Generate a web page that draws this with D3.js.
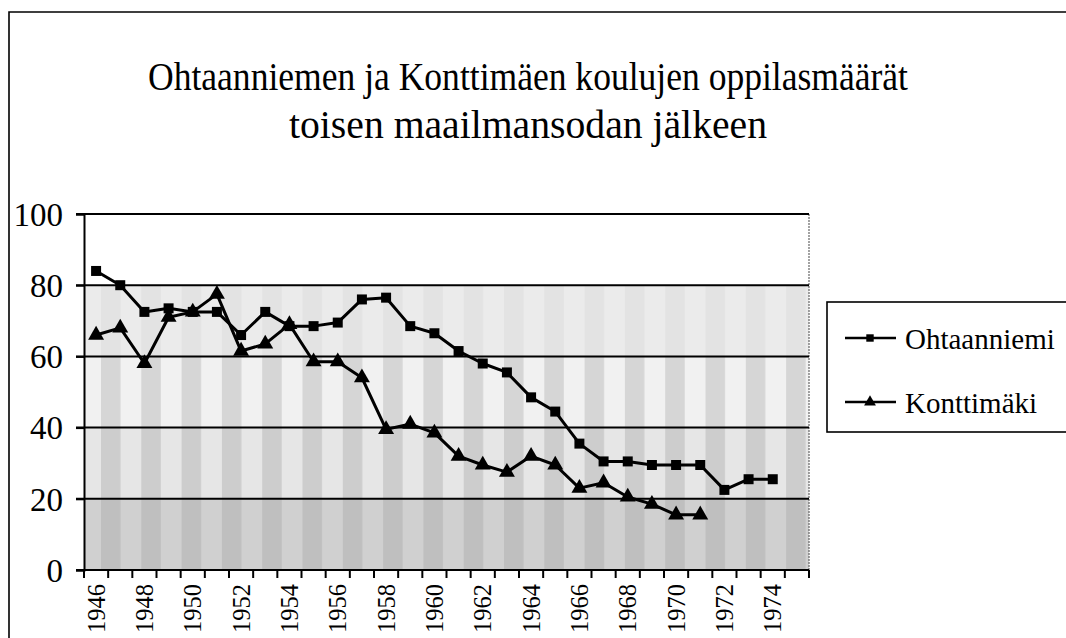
<!DOCTYPE html>
<html>
<head>
<meta charset="utf-8">
<script src="https://cdn.jsdelivr.net/npm/d3@7"></script>
<style>
  body { margin: 0; background: #fff; }
  svg { display: block; }
  text { font-family: "Liberation Serif", Tinos, "Times New Roman", "DejaVu Serif", serif; }
</style>
</head>
<body>
<script>
// School enrolment, 1946–1975
const years = [1946, 1947, 1948, 1949, 1950, 1951, 1952, 1953, 1954, 1955,
               1956, 1957, 1958, 1959, 1960, 1961, 1962, 1963, 1964, 1965,
               1966, 1967, 1968, 1969, 1970, 1971, 1972, 1973, 1974, 1975];
const ohtaanniemi = [84, 80, 72.5, 73.5, 72.5, 72.5, 66, 72.5, 68.5, 68.5,
                     69.5, 76, 76.5, 68.5, 66.5, 61.5, 58, 55.5, 48.5, 44.5,
                     35.5, 30.5, 30.5, 29.5, 29.5, 29.5, 22.5, 25.5, 25.5, null];
const konttimaki = [66, 68, 58, 71, 72.5, 77.5, 61.5, 63.5, 69, 58.5,
                    58.5, 54, 39.5, 41, 38.5, 32, 29.5, 27.5, 32, 29.5,
                    23, 24.5, 20.5, 18.5, 15.5, 15.5, null, null, null, null];
const seriesNames = ["Ohtaanniemi", "Konttimäki"];
const yTicks = [0, 20, 40, 60, 80, 100];
const xLabelYears = years.filter(d => d % 2 === 0);
const titleLines = ["Ohtaanniemen ja Konttimäen koulujen oppilasmäärät",
                    "toisen maailmansodan jälkeen"];

const W = 1066, H = 638;
const plot = { left: 84, right: 809, top: 214, bottom: 570 };

const svg = d3.select("body").append("svg")
  .attr("width", W).attr("height", H);

const x = d3.scaleBand().domain(years).range([plot.left, plot.right]);
const y = d3.scaleLinear().domain([0, 100]).range([plot.bottom, plot.top]);
const cx = (i) => x(years[i]) + x.bandwidth() / 2;

// Chart frame (left and top edges)
svg.append("path")
  .attr("d", `M9,${H} V12 H${W}`)
  .attr("fill", "none").attr("stroke", "#000").attr("stroke-width", 1.6);

// Title, set in a tall, narrow serif
const titleWidths = [760, 478];
svg.append("g").selectAll("text").data(titleLines).join("text")
  .attr("x", 528).attr("y", (d, i) => 90 + i * 48)
  .attr("text-anchor", "middle")
  .attr("font-size", 41)
  .attr("textLength", (d, i) => titleWidths[i])
  .attr("lengthAdjust", "spacingAndGlyphs")
  .text(d => d);

// Plot-area fill: textured bands that darken toward the baseline
const bandTones = [
  { base: "#d0d0d0", stripe: "#bfbfbf" },  // 0–20
  { base: "#e6e6e6", stripe: "#cdcdcd" },  // 20–40
  { base: "#f1f1f1", stripe: "#d6d6d6" },  // 40–60
  { base: "#ebebeb", stripe: "#e3e3e3" },  // 60–80
  { base: "#ffffff", stripe: "#ffffff" }   // 80–100
];
const defs = svg.append("defs");
bandTones.forEach((t, i) => {
  const p = defs.append("pattern")
    .attr("id", "stripes" + i)
    .attr("patternUnits", "userSpaceOnUse")
    .attr("x", 101).attr("y", 0)
    .attr("width", 40.3).attr("height", 10);
  p.append("rect").attr("width", 40.3).attr("height", 10).attr("fill", t.base);
  p.append("rect").attr("width", 19.5).attr("height", 10).attr("fill", t.stripe);
});
const bands = d3.range(yTicks.length - 1);
svg.append("g").selectAll("rect").data(bands).join("rect")
  .attr("x", plot.left)
  .attr("y", i => y(yTicks[i + 1]))
  .attr("width", plot.right - plot.left)
  .attr("height", i => y(yTicks[i]) - y(yTicks[i + 1]))
  .attr("fill", i => `url(#stripes${i})`);

// Right edge of plot area
svg.append("line")
  .attr("x1", plot.right).attr("x2", plot.right)
  .attr("y1", plot.top).attr("y2", plot.bottom)
  .attr("stroke", "#666").attr("stroke-width", 1.2)
  .attr("stroke-dasharray", "2,1");

// Horizontal gridlines
svg.append("g").selectAll("line").data(yTicks).join("line")
  .attr("x1", plot.left - 8).attr("x2", plot.right)
  .attr("y1", d => y(d)).attr("y2", d => y(d))
  .attr("stroke", "#000").attr("stroke-width", 2);

// Y axis
const yAxis = svg.append("g")
  .attr("transform", `translate(${plot.left},0)`)
  .call(d3.axisLeft(y).tickValues(yTicks).tickSize(8).tickPadding(13).tickFormat(d3.format("d")));
yAxis.attr("font-family", null);
yAxis.select(".domain").attr("stroke", "#000").attr("stroke-width", 2);
yAxis.selectAll(".tick line").attr("stroke", "#000").attr("stroke-width", 2);
yAxis.selectAll(".tick text")
  .attr("font-size", 33).attr("fill", "#000").attr("dy", "0.34em");

// X axis: ticks on category boundaries, every other year labelled
const xAxis = svg.append("g")
  .attr("transform", `translate(0,${plot.bottom})`)
  .call(d3.axisBottom(x).tickValues(xLabelYears).tickSize(0));
xAxis.attr("font-family", null);
xAxis.select(".domain").remove();
xAxis.selectAll(".tick text")
  .attr("font-size", 24.5).attr("fill", "#000")
  .attr("transform", "rotate(-90)")
  .attr("x", -14).attr("y", 0).attr("dy", "0.35em")
  .style("text-anchor", "end");
const boundaries = years.map(d => x(d)).concat([plot.right]);
xAxis.append("g").selectAll("line").data(boundaries).join("line")
  .attr("x1", d => d).attr("x2", d => d)
  .attr("y1", 0).attr("y2", 8)
  .attr("stroke", "#000").attr("stroke-width", 2);
xAxis.append("line")
  .attr("x1", plot.left - 8).attr("x2", plot.right)
  .attr("stroke", "#000").attr("stroke-width", 2.2);

// Series lines and markers
const line = d3.line()
  .defined(d => d != null)
  .x((d, i) => cx(i))
  .y(d => y(d));
const series = [
  { name: seriesNames[0], values: ohtaanniemi, symbol: d3.symbolSquare, size: 100 },
  { name: seriesNames[1], values: konttimaki, symbol: d3.symbolTriangle, size: 110 }
];
series.forEach(s => {
  const g = svg.append("g");
  g.append("path")
    .attr("d", line(s.values))
    .attr("fill", "none").attr("stroke", "#000")
    .attr("stroke-width", 3).attr("stroke-linejoin", "round");
  g.selectAll("path.mark")
    .data(s.values.map((v, i) => ({ v, i })).filter(d => d.v != null))
    .join("path").attr("class", "mark")
    .attr("transform", d => `translate(${cx(d.i)},${y(d.v)})`)
    .attr("d", d3.symbol(s.symbol, s.size))
    .attr("fill", "#000");
});

// Legend
const legend = svg.append("g");
legend.append("rect")
  .attr("x", 827).attr("y", 302).attr("width", 280).attr("height", 130)
  .attr("fill", "#fff").attr("stroke", "#000").attr("stroke-width", 1.6);
const rowY = [338, 402];
series.forEach((s, i) => {
  legend.append("line")
    .attr("x1", 845).attr("x2", 896)
    .attr("y1", rowY[i]).attr("y2", rowY[i])
    .attr("stroke", "#000").attr("stroke-width", 2.4);
  legend.append("path")
    .attr("transform", `translate(870,${rowY[i]})`)
    .attr("d", d3.symbol(s.symbol, s.size * 0.55))
    .attr("fill", "#000");
  legend.append("text")
    .attr("x", 905).attr("y", rowY[i] + 11)
    .attr("font-size", 29)
    .text(s.name);
});
</script>
</body>
</html>
